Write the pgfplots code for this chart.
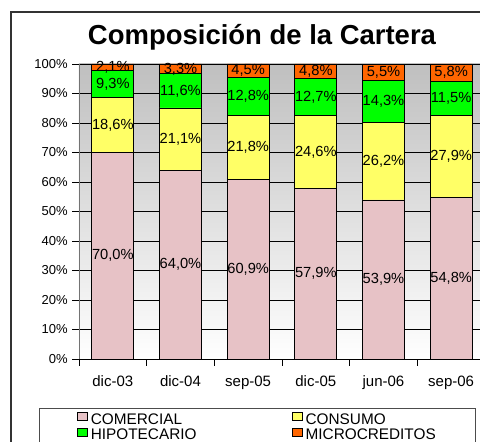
\documentclass[border=0pt]{standalone}
\usepackage{pgfplots}
\pgfplotsset{compat=1.18}
\usepackage{pgfplotstable}
\usepackage{fontspec}
\setmainfont{Liberation Sans}
\definecolor{comercial}{RGB}{231,194,198}
\definecolor{consumo}{RGB}{255,255,102}
\definecolor{hipotecario}{RGB}{0,255,0}
\definecolor{micro}{RGB}{255,102,0}
\pgfplotstableread{
x comercial consumo hipotecario micro
0 70.0 18.6 9.3 2.1
1 64.0 21.1 11.6 3.3
2 60.9 21.8 12.8 4.5
3 57.9 24.6 12.7 4.8
4 53.9 26.2 14.3 5.5
5 54.8 27.9 11.5 5.8
}\datatable
\pgfplotstableread{
x y v
0 35.00 70.0
1 32.00 64.0
2 30.45 60.9
3 28.95 57.9
4 26.95 53.9
5 27.40 54.8
0 79.30 18.6
1 74.55 21.1
2 71.80 21.8
3 70.20 24.6
4 67.00 26.2
5 68.75 27.9
0 93.25 9.3
1 90.90 11.6
2 89.10 12.8
3 88.85 12.7
4 87.25 14.3
5 88.45 11.5
0 98.95 2.1
1 98.35 3.3
2 97.75 4.5
3 97.60 4.8
4 97.15 5.5
5 97.10 5.8
}\labeltable
\begin{document}
\begin{tikzpicture}
\useasboundingbox (0,0) rectangle (360pt,331.5pt);
\clip (0,0) rectangle (360pt,331.5pt);
\fill[white] (0,0) rectangle (360pt,331.5pt);
\draw[black!80, line width=1.5pt] (8.25pt,-20pt) rectangle (380pt,322.5pt);
\node[anchor=base, font=\bfseries\fontsize{20.6}{23}\selectfont] at (196.5pt,297.75pt) {Composición de la Cartera};
\begin{axis}[
  at={(59.25pt,62.25pt)}, anchor=south west,
  scale only axis, width=304.5pt, height=221.25pt,
  xmin=-0.5, xmax=5.5, ymin=0, ymax=100,
  ybar stacked, bar width=31.5pt,
  axis background/.style={top color=black!25, bottom color=white},
  axis x line*=bottom, axis y line*=left,
  x axis line style={black, line width=0.6pt},
  y axis line style={black!55, line width=0.6pt},
  tick align=outside, major tick length=5pt,
  tick style={black, line width=0.6pt},
  ytick={0,10,...,100},
  yticklabel={\pgfmathprintnumber{\tick}\%},
  yticklabel style={font=\fontsize{9.75}{11}\selectfont},
  ymajorgrids, grid style={black, line width=0.6pt},
  xtick={-0.5,0.5,...,5.5}, xticklabels={},
  extra x ticks={0,1,2,3,4,5},
  extra x tick labels={dic-03,dic-04,sep-05,dic-05,jun-06,sep-06},
  extra x tick style={major tick length=0pt, xticklabel style={font=\fontsize{11.25}{13}\selectfont, yshift=-9pt}},
  /pgf/number format/assume math mode=true,
  every axis plot post/.append style={draw=black, line width=0.6pt,
    legend image code/.code={\path (0pt,0pt) (11.5pt,0pt); \draw[#1, draw=black, line width=0.5pt] (3pt,0pt) rectangle (11pt,6pt);}},
  legend columns=2,
  legend style={at={(-0.0985,-0.166)}, anchor=north west, draw=black!70, line width=0.6pt,
    inner xsep=25pt, inner ysep=3pt,
    nodes={inner xsep=1.5pt, inner ysep=0pt, text height=8pt, text depth=2.5pt, font=\fontsize{11.5}{13}\selectfont},
    /tikz/every even column/.append style={column sep=0pt}},
  legend cell align=left,
]
\addplot[fill=comercial] table[x=x, y=comercial] {\datatable};
\addlegendentry{\makebox[146pt][l]{COMERCIAL}}
\addplot[fill=consumo] table[x=x, y=consumo] {\datatable};
\addlegendentry{\makebox[101pt][l]{CONSUMO}}
\addplot[fill=hipotecario] table[x=x, y=hipotecario] {\datatable};
\addlegendentry{\makebox[146pt][l]{HIPOTECARIO}}
\addplot[fill=micro] table[x=x, y=micro] {\datatable};
\addlegendentry{\makebox[101pt][l]{MICROCREDITOS}}
\end{axis}
\begin{axis}[
  at={(59.25pt,62.25pt)}, anchor=south west,
  scale only axis, width=304.5pt, height=221.25pt,
  xmin=-0.5, xmax=5.5, ymin=0, ymax=100,
  hide axis, clip=false,
  /pgf/number format/assume math mode=true,
]
\addplot[only marks, mark=*, mark size=0pt, point meta=explicit,
  nodes near coords={\pgfmathprintnumber[fixed,fixed zerofill,precision=1,use comma,assume math mode=true]{\pgfplotspointmeta}\%},
  every node near coord/.append style={anchor=center, inner sep=0pt, font=\fontsize{11}{13}\selectfont, text=black}]
  table[x=x, y=y, meta=v] {\labeltable};
\end{axis}
\end{tikzpicture}
\end{document}
